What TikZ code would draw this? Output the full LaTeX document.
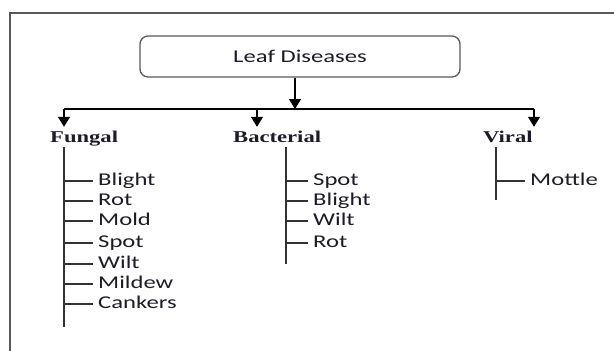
\documentclass[tikz,border=0pt]{standalone}
\usepackage{fontspec}
\setmainfont{Carlito}
\newfontfamily\catfont{Liberation Serif}
\usetikzlibrary{arrows.meta,positioning}
\definecolor{FrameGray}{RGB}{88,88,88}
\definecolor{InkBlack}{RGB}{28,28,40}
\newcommand{\widetext}[1]{\scalebox{1.37}[1]{#1}}

\tikzset{
	rootbox/.style={draw=FrameGray, line width=1.3pt, rounded corners=8pt, minimum width=320pt, minimum height=41pt, font=\fontsize{18}{20}\selectfont, text=InkBlack},
	category/.style={anchor=base west, inner sep=0pt, text height=11pt, text depth=0pt, font=\catfont\bfseries\fontsize{16.5}{18}\selectfont, text=InkBlack},
	leaf/.style={anchor=west, inner ysep=0pt, inner xsep=5pt, text height=12pt, text depth=3pt, font=\fontsize{18}{20}\selectfont, text=InkBlack},
	spine/.style={line width=1.6pt, draw=black!80},
	tick/.style={line width=1.3pt, draw=black!80},
	branch/.style={line width=1.3pt, -{Triangle[length=10pt,width=12pt]}},
}

\begin{document}
\begin{tikzpicture}[x=1pt, y=-1pt]
	\useasboundingbox (0,0) rectangle (614,351);
	
	% frame
	\draw[line width=2pt, FrameGray] (10,351) -- (10,13) -- (614,13);
	
	% root
	\node[rootbox] (root) at (300,56.5) {\widetext{Leaf Diseases}};
	
	% categories
	\node[category] (fungal) at (50,142) {\widetext{Fungal}};
	\node[category] (bacterial) at (233,142) {\widetext{Bacterial}};
	\node[category] (viral) at (483,142) {\widetext{Viral}};
	
	% bus
	\coordinate (hub) at (295,109);
	\coordinate (busF) at (64,109);
	\coordinate (busB) at (257,109);
	\coordinate (busV) at (534,109);
	\draw[branch] (root.south -| hub) -- (hub);
	\draw[line width=1.3pt] (busF) -- (busV);
	\draw[branch, shorten >=4pt] (busF) -- (busF |- fungal.north);
	\draw[branch, shorten >=4pt] (busB) -- (busB |- bacterial.north);
	\draw[branch, shorten >=4pt] (busV) -- (busV |- viral.north);
	
	% spines
	\coordinate (fTop) at (64,147);
	\coordinate (fBot) at (64,327);
	\coordinate (bTop) at (286,147);
	\coordinate (bBot) at (286,264);
	\coordinate (vTop) at (496,147);
	\coordinate (vBot) at (496,200);
	\draw[spine] (fTop) -- (fBot);
	\draw[spine] (bTop) -- (bBot);
	\draw[spine] (vTop) -- (vBot);
	
	% fungal diseases
	\node[leaf] (f1) at (93,181) {\widetext{Blight}};
	\node[leaf] (f2) at (93,201) {\widetext{Rot}};
	\node[leaf] (f3) at (93,221) {\widetext{Mold}};
	\node[leaf] (f4) at (93,243) {\widetext{Spot}};
	\node[leaf] (f5) at (93,264) {\widetext{Wilt}};
	\node[leaf] (f6) at (93,284) {\widetext{Mildew}};
	\node[leaf] (f7) at (93,304) {\widetext{Cankers}};
	\draw[tick] (fTop |- f1.west) -- (f1.west);
	\draw[tick] (fTop |- f2.west) -- (f2.west);
	\draw[tick] (fTop |- f3.west) -- (f3.west);
	\draw[tick] (fTop |- f4.west) -- (f4.west);
	\draw[tick] (fTop |- f5.west) -- (f5.west);
	\draw[tick] (fTop |- f6.west) -- (f6.west);
	\draw[tick] (fTop |- f7.west) -- (f7.west);
	
	% bacterial diseases
	\node[leaf] (b1) at (308,181) {\widetext{Spot}};
	\node[leaf] (b2) at (308,201) {\widetext{Blight}};
	\node[leaf] (b3) at (308,221) {\widetext{Wilt}};
	\node[leaf] (b4) at (308,243) {\widetext{Rot}};
	\draw[tick] (bTop |- b1.west) -- (b1.west);
	\draw[tick] (bTop |- b2.west) -- (b2.west);
	\draw[tick] (bTop |- b3.west) -- (b3.west);
	\draw[tick] (bTop |- b4.west) -- (b4.west);
	
	% viral diseases
	\node[leaf] (v1) at (525,181) {\widetext{Mottle}};
	\draw[tick] (vTop |- v1.west) -- (v1.west);
\end{tikzpicture}
\end{document}
